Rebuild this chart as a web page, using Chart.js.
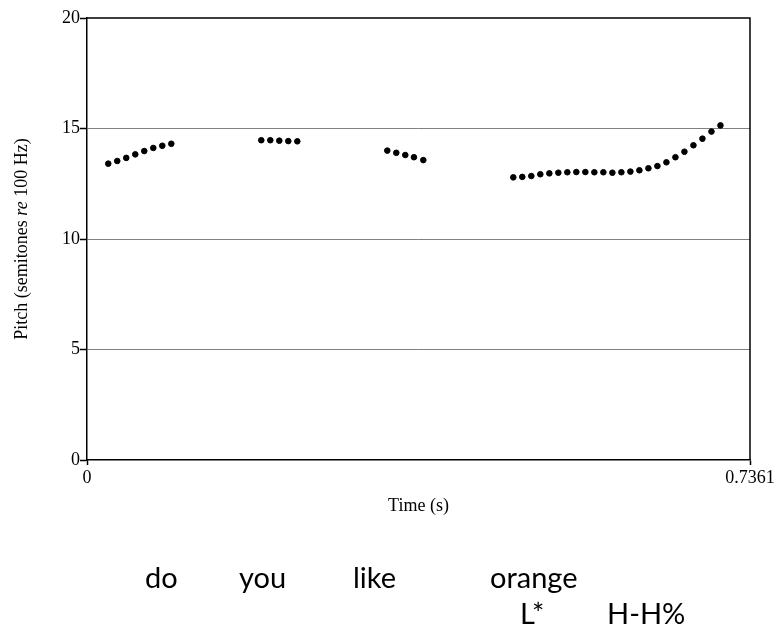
<!DOCTYPE html>
<html><head><meta charset="utf-8">
<script src="https://cdn.jsdelivr.net/npm/chart.js@4"></script>
<style>
html,body{margin:0;padding:0;background:#fff;}
#c{display:block;}
</style></head><body>
<canvas id="c" width="777" height="631"></canvas>
<script>
// ---- data ----
const timeSec = [
  0.0236, 0.0336, 0.0436, 0.0536, 0.0636, 0.0736, 0.0836, 0.0936,
  0.1935, 0.2035, 0.2135, 0.2235, 0.2335,
  0.3334, 0.3434, 0.3534, 0.3630, 0.3734,
  0.4733, 0.4833, 0.4933, 0.5033, 0.5133, 0.5233, 0.5333, 0.5433, 0.5533, 0.5633, 0.5733, 0.5833,
  0.5933, 0.6033, 0.6133, 0.6233, 0.6333, 0.6433, 0.6533, 0.6633, 0.6733, 0.6833, 0.6933, 0.7033
];
const pitchSt = [
  13.41, 13.53, 13.67, 13.83, 13.98, 14.12, 14.22, 14.31,
  14.47, 14.47, 14.45, 14.43, 14.42,
  14.00, 13.90, 13.80, 13.70, 13.57,
  12.79, 12.81, 12.85, 12.93, 12.97, 13.00, 13.02, 13.03, 13.03, 13.02, 13.02, 13.00,
  13.02, 13.05, 13.11, 13.20, 13.30, 13.47, 13.70, 13.95, 14.24, 14.54, 14.86, 15.14
];
const xTickValues = [0, 0.7361];
const yTickStep = 5;
const yRange = [0, 20];
const xTitle = 'Time (s)';
const yTitleParts = [['Pitch (semitones ', false], ['re', true], [' 100 Hz)', false]];
const words = ['do', 'you', 'like', 'orange'];
const tones = ['L*', 'H-H%'];

// ---- layout (not data) ----
const wordX = [145, 239, 353, 490];
const toneX = [520, 607];
const wordBaseline = 588;
const toneBaseline = 624;
const serif = 'Liberation Serif';

const overlay = {
  id: 'overlay',
  afterDraw(chart) {
    const {ctx, chartArea: a} = chart;
    ctx.save();
    // top and right frame
    ctx.strokeStyle = '#000';
    ctx.lineWidth = 1.5;
    ctx.beginPath();
    ctx.moveTo(a.left, a.top);
    ctx.lineTo(a.right, a.top);
    ctx.lineTo(a.right, a.bottom);
    ctx.stroke();
    // y title with italic "re"
    ctx.fillStyle = '#000';
    ctx.translate(22, (a.top + a.bottom) / 2);
    ctx.rotate(-Math.PI / 2);
    ctx.textBaseline = 'middle';
    const fonts = yTitleParts.map(p => (p[1] ? 'italic ' : '') + '18px "' + serif + '"');
    let total = 0;
    yTitleParts.forEach((p, i) => { ctx.font = fonts[i]; total += ctx.measureText(p[0]).width; });
    let x = -total / 2;
    yTitleParts.forEach((p, i) => {
      ctx.font = fonts[i];
      ctx.textAlign = 'left';
      ctx.fillText(p[0], x, 0);
      x += ctx.measureText(p[0]).width;
    });
    ctx.restore();
    // words and tones
    ctx.save();
    ctx.fillStyle = '#000';
    ctx.font = '29px Lato';
    ctx.textBaseline = 'alphabetic';
    ctx.textAlign = 'left';
    words.forEach((w, i) => ctx.fillText(w, wordX[i], wordBaseline));
    tones.forEach((w, i) => ctx.fillText(w, toneX[i], toneBaseline));
    ctx.restore();
  }
};

new Chart(document.getElementById('c'), {
  type: 'scatter',
  data: {
    datasets: [{
      data: timeSec.map((t, i) => ({x: t, y: pitchSt[i]})),
      backgroundColor: '#000',
      borderColor: '#000',
      pointRadius: 2.8,
      pointHoverRadius: 2.8,
      showLine: false
    }]
  },
  options: {
    responsive: false,
    animation: false,
    layout: {padding: {left: 0, top: 18, right: 27, bottom: 114}},
    plugins: {legend: {display: false}, tooltip: {enabled: false}},
    scales: {
      x: {
        type: 'linear',
        min: xTickValues[0],
        max: xTickValues[xTickValues.length - 1],
        afterBuildTicks: s => { s.ticks = xTickValues.map(v => ({value: v})); },
        ticks: {font: {family: serif, size: 18}, color: '#000', padding: 2, maxRotation: 0, autoSkip: false,
                callback: v => String(v)},
        grid: {drawOnChartArea: false, color: '#000', tickColor: '#000', tickLength: 5, tickWidth: 1.5},
        border: {color: '#000', width: 1.5},
        title: {display: true, text: xTitle, font: {family: serif, size: 18}, color: '#000', padding: {top: 0, bottom: 0}},
        afterFit: s => { s.height = 57; }
      },
      y: {
        min: yRange[0],
        max: yRange[1],
        ticks: {stepSize: yTickStep, font: {family: serif, size: 18}, color: '#000', padding: 0},
        grid: {
          color: c => (c.tick && c.tick.value > yRange[0] && c.tick.value < yRange[1]) ? '#808080' : 'rgba(0,0,0,0)',
          tickColor: '#000', tickLength: 7, lineWidth: 1, tickWidth: 1.5
        },
        border: {color: '#000', width: 1.5},
        afterFit: s => { s.width = 87; }
      }
    }
  },
  plugins: [overlay]
});
</script>
</body></html>
